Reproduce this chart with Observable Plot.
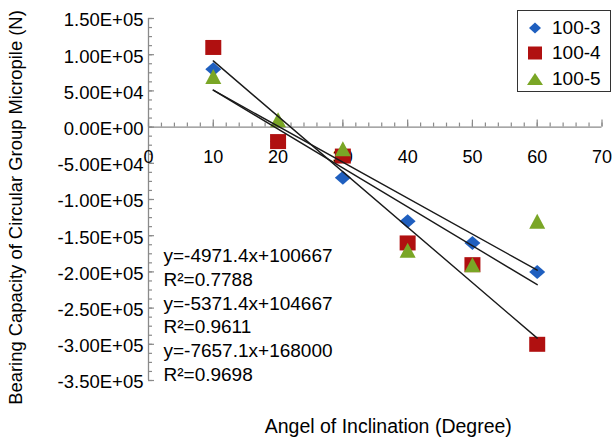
<!DOCTYPE html>
<html><head><meta charset="utf-8">
<script src="https://cdn.jsdelivr.net/npm/d3@7"></script>
<script src="https://cdn.jsdelivr.net/npm/@observablehq/plot@0.6"></script>
<style>
body{margin:0;background:#fff;}
#wrap{position:relative;width:613px;height:447px;font-family:"Liberation Sans",Arial,sans-serif;}
#legend{position:absolute;left:517px;top:10px;width:94px;height:82px;border:1px solid #333;box-sizing:border-box;background:#fff;}
.item{position:absolute;left:0;height:20px;font-size:19px;line-height:20px;color:#000;}
.item svg{position:absolute;left:7px;top:0;}
.item span{position:absolute;left:34px;top:0;white-space:nowrap;}
</style></head><body><div id="wrap"></div>
<script>
const angles = [10, 20, 30, 40, 50, 60];
const seriesNames = ["100-3", "100-4", "100-5"];
const values1003 = [80000, -20000, -70000, -130000, -160000, -200000];
const values1004 = [110000, -20000, -40000, -160000, -190000, -300000];
const values1005 = [70000, 10000, -30000, -170000, -190000, -130000];
const seriesColors = ["#1f5fbf", "#b01010", "#7aa626"];
const xTicks = [0, 10, 20, 30, 40, 50, 60, 70];
const yTicks = [150000, 100000, 50000, 0, -50000, -100000, -150000, -200000, -250000, -300000, -350000];
const yTickLabels = ["1.50E+05", "1.00E+05", "5.00E+04", "0.00E+00", "-5.00E+04", "-1.00E+05", "-1.50E+05", "-2.00E+05", "-2.50E+05", "-3.00E+05", "-3.50E+05"];
const equations = ["y=-4971.4x+100667", "R²=0.7788", "y=-5371.4x+104667", "R²=0.9611", "y=-7657.1x+168000", "R²=0.9698"];
const xTitle = "Angel of Inclination (Degree)";
const yTitle = "Bearing Capacity of Circular Group Micropile (N)";

const allValues = [values1003, values1004, values1005];
const data = [];
seriesNames.forEach((s, k) => angles.forEach((a, i) => data.push({series: s, angle: a, value: allValues[k][i]})));

const diamond = {draw(c) { c.moveTo(0, -7); c.lineTo(8, 0); c.lineTo(0, 7); c.lineTo(-8, 0); c.closePath(); }};
const square = {draw(c) { c.rect(-8, -7.5, 16, 15); }};
const triangle = {draw(c) { c.moveTo(0, -7.5); c.lineTo(8, 7.5); c.lineTo(-8, 7.5); c.closePath(); }};
const symbols = [diamond, square, triangle];

const xMinor = d3.range(0, 71, 2);
const yMinor = d3.range(-350000, 150001, 12500);
const axisGray = "#8a8a8a";
const font = "Liberation Sans, Arial, sans-serif";

const chart = Plot.plot({
  width: 613, height: 447,
  marginLeft: 148, marginRight: 11.5, marginTop: 18, marginBottom: 67,
  style: {fontFamily: font, background: "#fff", color: "#000", overflow: "visible"},
  x: {domain: [0, 70], axis: null},
  y: {domain: [-350000, 150000], axis: null},
  marks: [
    Plot.ruleX([0], {x: d => d, y1: -350000, y2: 150000, stroke: axisGray, strokeWidth: 1.3}),
    Plot.ruleY([0], {y: d => d, x1: 0, x2: 70, stroke: axisGray, strokeWidth: 1.3}),
    Plot.ruleY(yMinor, {y: d => d, x1: 0, x2: 0, insetRight: -4, stroke: axisGray, strokeWidth: 1.2}),
    Plot.ruleY(yTicks, {y: d => d, x1: 0, x2: 0, insetRight: -6, stroke: axisGray, strokeWidth: 1.2}),
    Plot.ruleX(xMinor, {x: d => d, y1: 0, y2: 0, insetTop: -4, stroke: axisGray, strokeWidth: 1.2}),
    Plot.ruleX(xTicks, {x: d => d, y1: 0, y2: 0, insetTop: -7, stroke: axisGray, strokeWidth: 1.2}),
    Plot.text(yTicks, {x: 0, y: d => d, text: (d, i) => yTickLabels[i], textAnchor: "end", dx: -5, dy: 2, fontSize: 18.5, fill: "#000"}),
    Plot.text(xTicks, {x: d => d, y: 0, text: d => String(d), dy: 30, fontSize: 18, fill: "#000"}),
    ...seriesNames.map((s, k) => Plot.dot(data.filter(d => d.series === s), {x: "angle", y: "value", symbol: symbols[k], fill: seriesColors[k], stroke: "none"})),
    Plot.linearRegressionY(data, {x: "angle", y: "value", z: "series", stroke: "#1a1a1a", strokeWidth: 1.4, ci: 0}),
    Plot.text([equations.join("\n")], {frameAnchor: "top-left", dx: 15, dy: 227, lineAnchor: "top", lineHeight: 1.245, textAnchor: "start", fontSize: 19, fill: "#000"}),
    Plot.text([xTitle], {frameAnchor: "bottom", textAnchor: "middle", dx: 13, dy: 52, fontSize: 19.5, fill: "#000"}),
    Plot.text([yTitle], {frameAnchor: "left", textAnchor: "middle", dx: -132, dy: 8, rotate: -90, fontSize: 18.4, fill: "#000"})
  ]
});
const wrap = document.getElementById("wrap");
wrap.appendChild(chart);

// legend
const legend = document.createElement("div");
legend.id = "legend";
const legendPaths = [
  "M10,4.5L16,10L10,15.5L4,10Z",
  "M3,3.5h14v13h-14Z",
  "M10,4L18,16H2Z"
];
const legendTops = [7, 32, 58];
seriesNames.forEach((s, k) => {
  const item = document.createElement("div");
  item.className = "item";
  item.style.top = legendTops[k] + "px";
  item.innerHTML = `<svg width="20" height="20" viewBox="0 0 20 20"><path d="${legendPaths[k]}" fill="${seriesColors[k]}"/></svg><span>${s}</span>`;
  legend.appendChild(item);
});
wrap.appendChild(legend);
</script>
</body></html>
